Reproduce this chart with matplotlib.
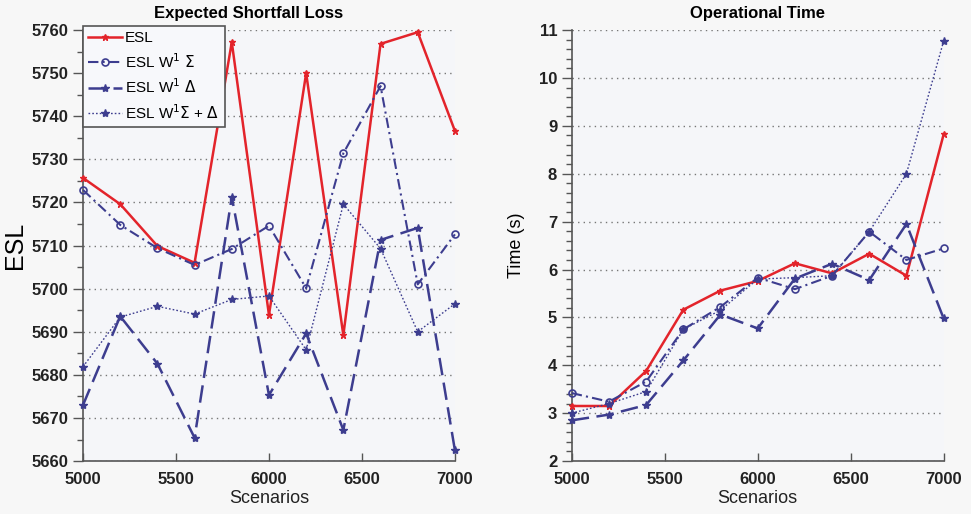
import matplotlib.pyplot as plt
from matplotlib.ticker import MultipleLocator

plt.rcParams['font.family'] = ['Liberation Sans', 'DejaVu Sans']

scenarios = [5000, 5200, 5400, 5600, 5800, 6000, 6200, 6400, 6600, 6800, 7000]

# Expected shortfall loss per method
esl = [5725.7, 5719.6, 5709.9, 5706.0, 5757.2, 5693.9, 5750.0, 5689.2, 5756.8, 5759.5, 5736.6]
esl_sigma = [5722.9, 5714.8, 5709.4, 5705.5, 5709.2, 5714.6, 5700.1, 5731.4, 5747.0, 5701.0, 5712.6]
esl_delta = [5673.0, 5693.6, 5682.6, 5665.4, 5721.3, 5675.3, 5689.6, 5667.2, 5711.3, 5714.1, 5662.5]
esl_sigma_delta = [5681.9, 5693.4, 5695.9, 5694.1, 5697.5, 5698.3, 5685.8, 5719.6, 5709.3, 5690.0, 5696.5]

# Operational time (s) per method
t_esl = [3.15, 3.15, 3.88, 5.16, 5.56, 5.76, 6.13, 5.92, 6.33, 5.87, 8.82]
t_sigma = [3.42, 3.24, 3.66, 4.75, 5.22, 5.83, 5.59, 5.87, 6.79, 6.20, 6.44]
t_delta = [2.85, 2.97, 3.17, 4.10, 5.06, 4.77, 5.81, 6.12, 5.78, 6.95, 4.98]
t_sigma_delta = [3.00, 3.20, 3.45, 4.75, 5.15, 5.80, 5.83, 5.87, 6.79, 8.00, 10.77]

labels = ['ESL', 'ESL W$^1$ $\\Sigma$', 'ESL W$^1$ $\\Delta$', 'ESL W$^1$$\\Sigma$ + $\\Delta$']

red = '#e3242b'
blue = '#3d3d8f'
styles = [
    dict(color=red, lw=1.8, ls='-', marker='*', ms=5),
    dict(color=blue, lw=1.5, ls=(0, (5, 2, 1, 2)), marker='o', ms=5, mfc='none', mew=1.2),
    dict(color=blue, lw=1.8, ls=(0, (7, 3)), marker='*', ms=6),
    dict(color=blue, lw=1.0, ls=(0, (1.2, 1.5)), marker='*', ms=6),
]

fig = plt.figure(figsize=(9.71, 5.14), dpi=100, facecolor='#f7f7f7')
ax1 = fig.add_axes([0.0855, 0.103, 0.383, 0.8385])
ax2 = fig.add_axes([0.5888, 0.103, 0.383, 0.8385])


def style_axis(ax):
    ax.set_facecolor('#f5f6f9')
    for side in ['top', 'right']:
        ax.spines[side].set_visible(False)
    for side in ['left', 'bottom']:
        ax.spines[side].set_color('#555555')
        ax.spines[side].set_linewidth(1.2)
    ax.set_xlim(5000, 7000)
    ax.xaxis.set_major_locator(MultipleLocator(500))
    ax.tick_params(axis='x', direction='in', length=6, width=1, colors='#555555',
                   labelcolor='#222222', labelsize=12, pad=8)
    ax.tick_params(axis='y', which='major', direction='out', length=7, width=1,
                   colors='#555555', labelcolor='#222222', labelsize=12)
    ax.tick_params(axis='y', which='minor', direction='out', length=4, width=1,
                   colors='#555555')
    for lbl in ax.get_xticklabels() + ax.get_yticklabels():
        lbl.set_fontweight('bold')
    ax.grid(axis='y', which='major', ls=(0, (1, 3)), color='#777777', lw=1)
    ax.set_xlabel('Scenarios', fontsize=13, color='#222222', labelpad=2)


# Left panel: expected shortfall loss
for y, lab, st in zip([esl, esl_sigma, esl_delta, esl_sigma_delta], labels, styles):
    ax1.plot(scenarios, y, label=lab, clip_on=False, zorder=3, **st)
ax1.set_ylim(5660, 5760)
ax1.yaxis.set_major_locator(MultipleLocator(10))
ax1.yaxis.set_minor_locator(MultipleLocator(5))
style_axis(ax1)
ax1.set_title('Expected Shortfall Loss', fontsize=12, fontweight='bold', x=0.446, pad=9)
ax1.set_ylabel('ESL', fontsize=18, labelpad=3)
leg = ax1.legend(loc='upper left', bbox_to_anchor=(0.0, 1.01), fontsize=11,
                 frameon=True, fancybox=False, handlelength=2.2, handletextpad=0.2,
                 borderpad=0.35, labelspacing=0.45, borderaxespad=0.0)
leg.get_frame().set_edgecolor('#555555')
leg.get_frame().set_facecolor('#f7f8fb')
leg.get_frame().set_linewidth(1.2)
leg.get_frame().set_alpha(1)

# Right panel: operational time
for y, st in zip([t_esl, t_sigma, t_delta, t_sigma_delta], styles):
    ax2.plot(scenarios, y, clip_on=False, zorder=3, **st)
ax2.set_ylim(2, 11)
ax2.yaxis.set_major_locator(MultipleLocator(1))
ax2.yaxis.set_minor_locator(MultipleLocator(0.2))
style_axis(ax2)
ax2.set_title('Operational Time', fontsize=12, fontweight='bold', pad=9)
ax2.set_ylabel('Time (s)', fontsize=13, labelpad=10)

fig.savefig('out.png', dpi=100, facecolor=fig.get_facecolor())
